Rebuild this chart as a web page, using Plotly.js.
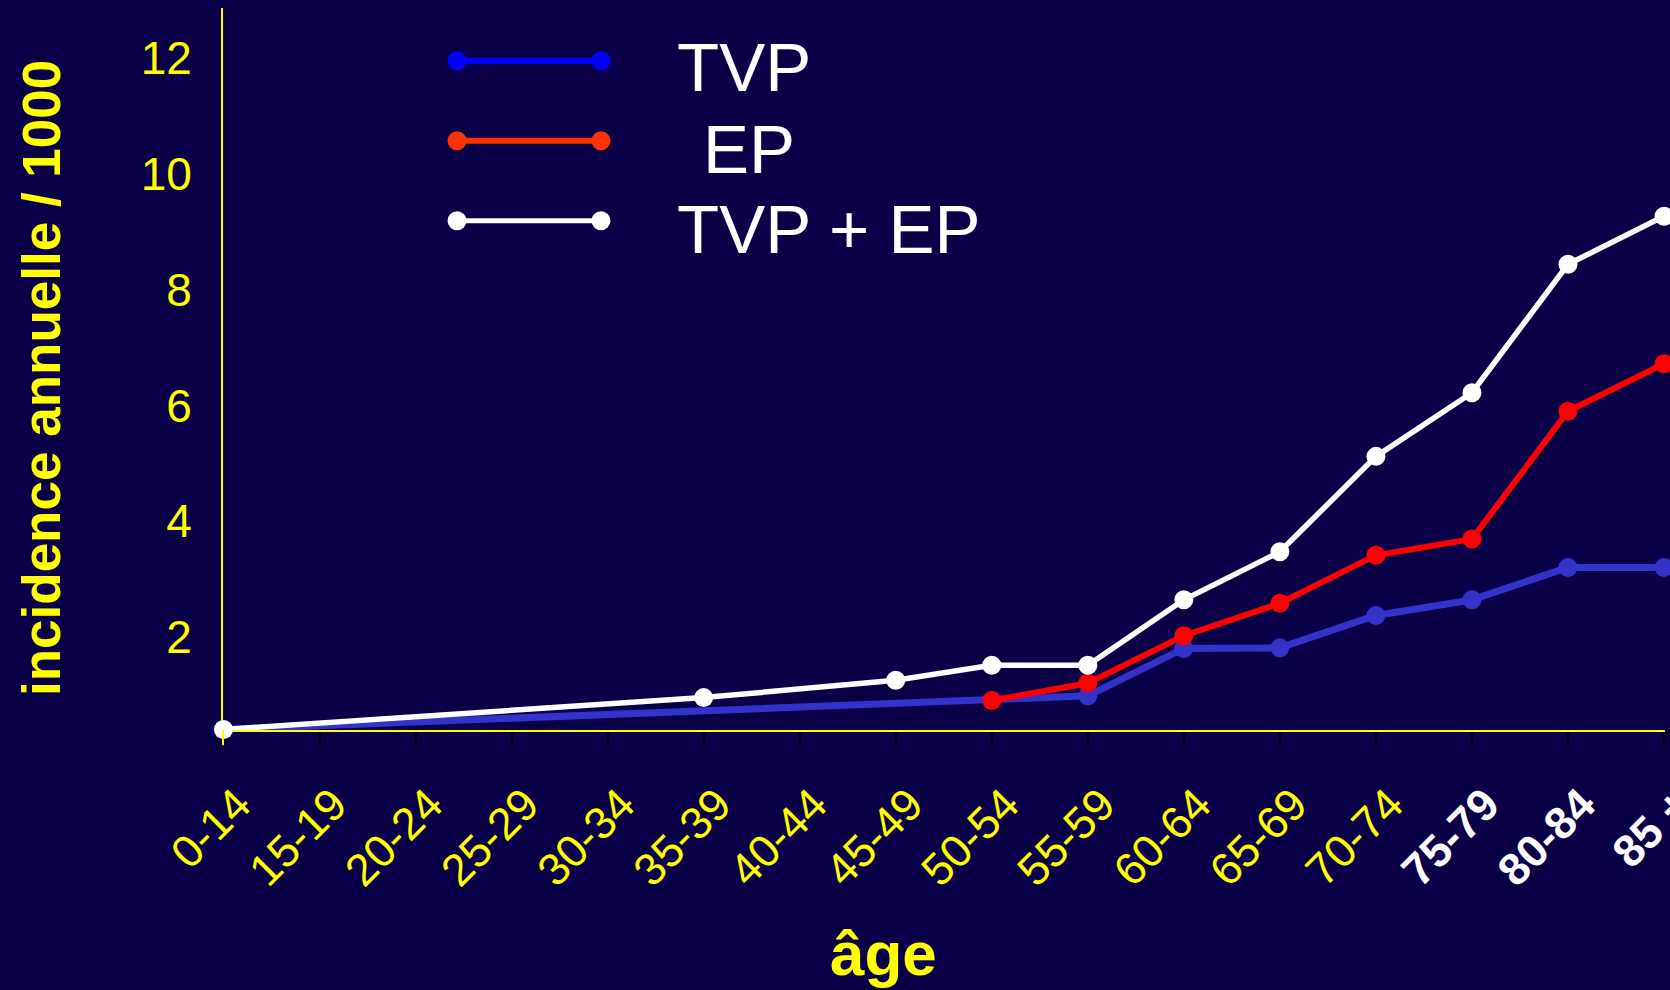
<!DOCTYPE html>
<html>
<head>
<meta charset="utf-8">
<script src="https://cdn.plot.ly/plotly-3.0.1.min.js"></script>
<style>
  html, body { margin: 0; padding: 0; background: #0a0048; }
  #chart { width: 1670px; height: 990px; }
</style>
</head>
<body>
<div id="chart"></div>
<script>
// ---- data ----
const categories = ['0-14','15-19','20-24','25-29','30-34','35-39','40-44','45-49',
                    '50-54','55-59','60-64','65-69','70-74','75-79','80-84','85 +'];
const highlightedCategories = ['75-79','80-84','85 +'];
const seriesNames = ['TVP', 'EP', 'TVP + EP'];
const tvp   = [0.40, null, null, null, null, null, null, null, null, 0.98, 1.80, 1.81, 2.37, 2.64, 3.20, 3.20];
const ep    = [null, null, null, null, null, null, null, null, 0.90, 1.20, 2.02, 2.58, 3.41, 3.69, 5.90, 6.72];
const tvpEp = [0.40, null, null, null, null, 0.95, null, 1.25, 1.51, 1.51, 2.64, 3.47, 5.12, 6.22, 8.44, 9.27];
const yTicks = [2, 4, 6, 8, 10, 12];

// ---- styles ----
const BG = '#0a0048';
const YELLOW = '#ffff00';
const FONT = '"Liberation Sans", Arial, sans-serif';
const lineColors   = ['#3333cc', '#ff0000', '#ffffff'];
const legendColors = ['#0000ff', '#ff3300', '#ffffff'];
const lineWidths   = [7, 6, 5.5];
const legendWidths = [6, 6, 5];

const seriesValues = [tvp, ep, tvpEp];
const traces = seriesValues.map((vals, i) => ({
  type: 'scatter',
  mode: 'lines+markers',
  name: seriesNames[i],
  x: categories,
  y: vals,
  connectgaps: true,
  cliponaxis: false,
  line: { color: lineColors[i], width: lineWidths[i] },
  marker: { color: lineColors[i], size: 19 },
  showlegend: false,
  hoverinfo: 'skip'
}));

const tickText = categories.map(c =>
  highlightedCategories.includes(c)
    ? '<b><span style="color:#ffffff">' + c + '</span></b>'
    : c);

// custom legend: line with a dot at each end, text to the right
const legX0 = 0.1623, legX1 = 0.2621;
const legY = [0.927, 0.8162, 0.7054];
const legTextX = [0.3135, 0.3315, 0.3135];
const legTextY = [0.9173, 0.8047, 0.6939];
const shapes = [];
const annotations = [];
seriesNames.forEach((name, i) => {
  shapes.push({ type: 'line', xref: 'paper', yref: 'paper',
    x0: legX0, x1: legX1, y0: legY[i], y1: legY[i],
    line: { color: legendColors[i], width: legendWidths[i] } });
  [legX0, legX1].forEach(ax => shapes.push({
    type: 'circle', xref: 'paper', yref: 'paper',
    xsizemode: 'pixel', ysizemode: 'pixel', xanchor: ax, yanchor: legY[i],
    x0: -9.5, x1: 9.5, y0: -9.5, y1: 9.5,
    fillcolor: legendColors[i], line: { width: 0 } }));
  annotations.push({ xref: 'paper', yref: 'paper', x: legTextX[i], y: legTextY[i],
    xanchor: 'left', yanchor: 'middle', showarrow: false, text: name,
    font: { family: FONT, size: 69, color: '#ffffff' } });
});
// axis titles
annotations.push({ xref: 'paper', yref: 'paper', x: -0.1262, y: 0.4875,
  xanchor: 'center', yanchor: 'middle', showarrow: false, textangle: -90,
  text: '<b>incidence annuelle / 1000</b>',
  font: { family: FONT, size: 53, color: YELLOW } });
annotations.push({ xref: 'paper', yref: 'paper', x: 0.458, y: -0.309,
  xanchor: 'center', yanchor: 'middle', showarrow: false,
  text: '<b>âge</b>',
  font: { family: FONT, size: 62, color: YELLOW } });
// yellow stub of the y axis below the x axis
shapes.push({ type: 'line', xref: 'paper', yref: 'paper', x0: 0, x1: 0, y0: 0, y1: -0.021,
  line: { color: YELLOW, width: 2 } });

const layout = {
  width: 1670, height: 990,
  paper_bgcolor: BG, plot_bgcolor: BG,
  margin: { l: 223, r: 5, t: 8, b: 260, pad: 0 },
  showlegend: false,
  font: { family: FONT, color: YELLOW },
  xaxis: {
    type: 'category',
    categoryorder: 'array', categoryarray: categories,
    range: [-0.005, 15.01],
    tickmode: 'array', tickvals: categories, ticktext: tickText,
    tickangle: -45,
    tickfont: { family: FONT, size: 45, color: YELLOW },
    ticks: 'outside', ticklen: 14, tickwidth: 2, tickcolor: '#000000',
    ticklabelstandoff: 14, ticklabelshift: 14,
    showline: true, linecolor: YELLOW, linewidth: 2,
    showgrid: false, zeroline: false, layer: 'below traces',
    fixedrange: true
  },
  yaxis: {
    range: [0.39, 12.87],
    tickmode: 'array', tickvals: yTicks,
    tickfont: { family: FONT, size: 46, color: YELLOW },
    ticks: '', ticklabelstandoff: 20,
    showline: true, linecolor: YELLOW, linewidth: 2,
    showgrid: false, zeroline: false, layer: 'below traces',
    fixedrange: true
  },
  shapes: shapes,
  annotations: annotations
};

Plotly.newPlot('chart', traces, layout, { displayModeBar: false, staticPlot: true });
</script>
</body>
</html>
